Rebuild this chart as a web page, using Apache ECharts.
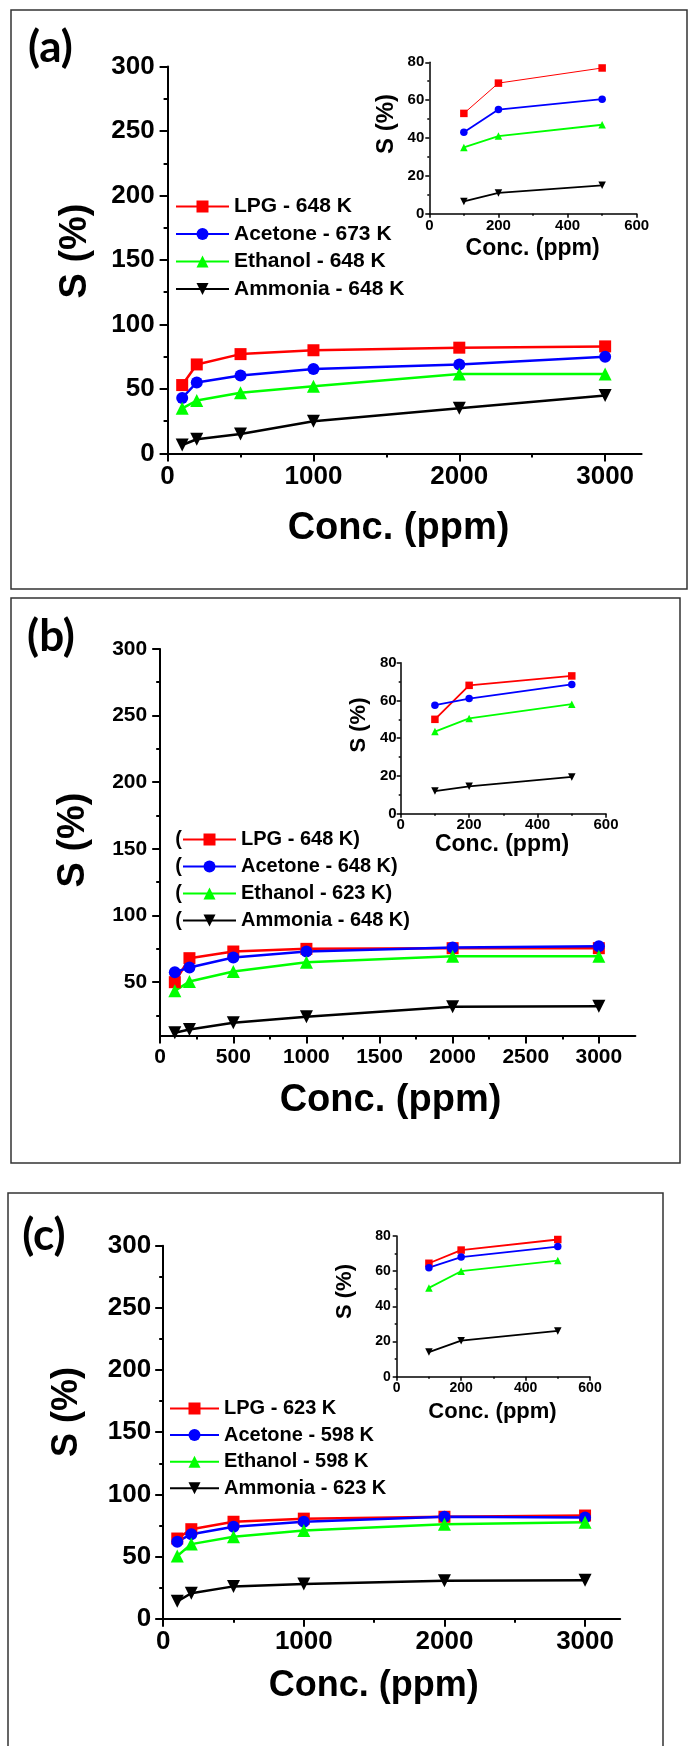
<!DOCTYPE html>
<html>
<head>
<meta charset="utf-8">
<script src="https://cdn.jsdelivr.net/npm/echarts@6/dist/echarts.min.js"></script>
<style>
  html,body{margin:0;padding:0;background:#fff}
  #chart{width:688px;height:1746px}
</style>
</head>
<body>
<div id="chart"></div>
<script>
/* ── data ─────────────────────────────────────────────── */
const concMain  = [100, 200, 500, 1000, 2000, 3000];   // ppm
const concInset = [100, 200, 500];                      // inset = low-conc zoom

const namesA   = ['LPG - 648 K', 'Acetone - 673 K', 'Ethanol - 648 K', 'Ammonia - 648 K'];
const lpgA     = [53, 69, 77, 80, 82, 83];
const acetoneA = [43, 55, 60.5, 65.5, 69, 75];
const ethanolA = [35, 41, 47, 52, 61.5, 61.5];
const ammoniaA = [6.5, 11, 15, 25, 35, 45];

const namesB   = ['LPG - 648 K)', 'Acetone - 648 K)', 'Ethanol - 623 K)', 'Ammonia - 648 K)'];
const lpgB     = [50, 68, 73, 75, 75.5, 75.5];
const acetoneB = [57.5, 61, 68.5, 73, 76, 77];
const ethanolB = [43.5, 50.5, 58, 65, 69.5, 69.5];
const ammoniaB = [12, 14.5, 19.5, 24, 31.5, 32];

const namesC   = ['LPG - 623 K', 'Acetone - 598 K', 'Ethanol - 598 K', 'Ammonia - 623 K'];
const lpgC     = [64.5, 72, 78, 80.5, 82, 83];
const acetoneC = [62, 68, 74, 78, 82, 81.5];
const ethanolC = [50.5, 60, 66, 71, 76, 77.5];
const ammoniaC = [14, 20.5, 26, 28, 30.5, 31];

// tick values
const yMajor300  = [0, 50, 100, 150, 200, 250, 300];
const yMinor300  = [25, 75, 125, 175, 225, 275];
const yMajorB    = [50, 100, 150, 200, 250, 300];
const x1000      = [0, 1000, 2000, 3000];
const x500minor  = [500, 1500, 2500];
const x500       = [0, 500, 1000, 1500, 2000, 2500, 3000];
const x250minor  = [250, 750, 1250, 1750, 2250, 2750];
const yInset     = [0, 20, 40, 60, 80];
const yInsetMin  = [10, 30, 50, 70];
const xInset     = [0, 200, 400, 600];
const xInsetMin  = [100, 300, 500];

/* ── style ───────────────────────────────────────────── */
const FONT = '"Liberation Sans", Arial, sans-serif';
const GAS = [
  { color: '#ff0000', symbol: 'rect',     size: 12 },
  { color: '#0000ff', symbol: 'circle',   size: 12 },
  { color: '#00ff00', symbol: 'triangle', size: 13 },
  { color: '#000000', symbol: 'triangle', size: 13, rotate: 180 },
];

// grid boxes: [left, top, width, height]; order a, a-inset, b, b-inset, c, c-inset
const GRIDS = [
  [167.6, 66.6, 474, 386.8],
  [429.3, 62.3, 207.4, 151.4],
  [160.2, 648.9, 475.2, 386.6],
  [400.7, 662.7, 205.3, 151],
  [163.2, 1245.8, 457, 372.9],
  [396.7, 1236, 193.3, 140.7],
];

// one axis + an overlay axis that carries only the short minor ticks
function axisPair(dim, g, c) {
  const pos = dim === 'x' ? 'bottom' : 'left';
  const main = {
    type: 'value', gridIndex: g, position: pos, min: c.min, max: c.max,
    axisLine: { show: true, onZero: false, lineStyle: { color: '#000', width: c.lw } },
    axisTick: { show: true, inside: false, length: c.tick, customValues: c.major,
      lineStyle: { color: '#000', width: c.lw } },
    axisLabel: { customValues: c.major, formatter: v => String(v), color: '#000',
      fontFamily: FONT, fontWeight: 'bold', fontSize: c.fs, margin: c.margin },
    splitLine: { show: false },
  };
  const minor = {
    type: 'value', gridIndex: g, position: pos, min: c.min, max: c.max,
    axisLine: { show: false, onZero: false },
    axisTick: { show: true, inside: false, length: c.tick / 2, customValues: c.minor,
      lineStyle: { color: '#000', width: c.lw } },
    axisLabel: { show: false },
    splitLine: { show: false },
  };
  return [main, minor];
}

const xAxis = [], yAxis = [];
function addAxes(g, xc, yc) {
  xAxis.push(...axisPair('x', g, xc));
  yAxis.push(...axisPair('y', g, yc));
}
const mainY = { min: 0, max: 300, major: yMajor300, minor: yMinor300, lw: 2, tick: 8 };
const insetY = { min: 0, max: 80, major: yInset, minor: yInsetMin, lw: 1.5, tick: 4 };
const insetX = { min: 0, max: 600, major: xInset, minor: xInsetMin, lw: 1.5, tick: 4 };

addAxes(0, { min: 0, max: 3250, major: x1000, minor: x500minor, lw: 2, tick: 8, fs: 26, margin: 10 },
           Object.assign({}, mainY, { fs: 26, margin: 13 }));
addAxes(1, Object.assign({}, insetX, { fs: 15, margin: 5 }), Object.assign({}, insetY, { fs: 15, margin: 5 }));
addAxes(2, { min: 0, max: 3250, major: x500, minor: x250minor, lw: 2, tick: 8, fs: 21, margin: 11 },
           { min: 10, max: 300, major: yMajorB, minor: yMinor300, lw: 2, tick: 8, fs: 21, margin: 13 });
addAxes(3, Object.assign({}, insetX, { fs: 15, margin: 4 }), Object.assign({}, insetY, { fs: 15, margin: 4 }));
addAxes(4, { min: 0, max: 3250, major: x1000, minor: x500minor, lw: 2, tick: 8, fs: 26, margin: 10 },
           Object.assign({}, mainY, { fs: 26, margin: 12 }));
addAxes(5, Object.assign({}, insetX, { fs: 14, margin: 4.5 }), Object.assign({}, insetY, { fs: 14, margin: 6 }));

// series for one panel: main chart (grid gMain) + inset (gMain+1)
function panel(names, values, gMain, thinLpgInset) {
  const out = [];
  values.forEach((v, i) => {
    const s = GAS[i];
    const base = { type: 'line', name: names[i], symbol: s.symbol, symbolRotate: s.rotate || 0,
      itemStyle: { color: s.color }, animation: false };
    out.push(Object.assign({}, base, {
      xAxisIndex: 2 * gMain, yAxisIndex: 2 * gMain, symbolSize: s.size,
      lineStyle: { color: s.color, width: 2.5 },
      data: concMain.map((c, k) => [c, v[k]]),
    }));
    const gi = gMain + 1;
    out.push(Object.assign({}, base, {
      xAxisIndex: 2 * gi, yAxisIndex: 2 * gi, symbolSize: 7.5,
      lineStyle: { color: s.color, width: (thinLpgInset && i === 0) ? 1 : 1.8 },
      data: concInset.map((c, k) => [c, v[k]]),
    }));
  });
  return out;
}

const series = [].concat(
  panel(namesA, [lpgA, acetoneA, ethanolA, ammoniaA], 0, true),
  panel(namesB, [lpgB, acetoneB, ethanolB, ammoniaB], 2, false),
  panel(namesC, [lpgC, acetoneC, ethanolC, ammoniaC], 4, false)
);

function legend(names, left, top, gap, w, fs) {
  return {
    data: names, orient: 'vertical', left, top, padding: 0, itemGap: gap,
    itemWidth: w, itemHeight: 15, selectedMode: false,
    lineStyle: { width: 2 },
    textStyle: { color: '#000', fontFamily: FONT, fontWeight: 'bold', fontSize: fs, lineHeight: 21 },
  };
}

/* ── texts & frames ──────────────────────────────────── */
const txt = (text, x, y, size, rot, family) => ({
  type: 'text', x, y, rotation: rot ? Math.PI / 2 : 0, z: 100,
  style: { text, fill: '#000', font: `bold ${size}px ${family || FONT}`,
    align: 'center', verticalAlign: 'middle', textAlign: 'center', textVerticalAlign: 'middle' },
});
const frame = (x, y, w, h) => ({
  type: 'rect', shape: { x, y, width: w, height: h }, z: 0,
  style: { fill: 'none', stroke: '#333', lineWidth: 1.5 },
});
const LETTER = 'Lato, "Open Sans", sans-serif';
const graphic = [
  frame(11, 10, 676, 579), frame(11, 598, 669, 565), frame(8, 1193, 655, 560),
  txt('(a)', 50.5, 47.5, 44, false, LETTER),
  txt('(b)', 51, 637, 44, false, LETTER),
  txt('(c)', 44, 1236, 44, false, LETTER),
  txt('S (%)', 75.6, 251, 38, true), txt('Conc. (ppm)', 398.5, 529, 38),
  txt('S (%)', 386, 124, 24, true),  txt('Conc. (ppm)', 532.6, 248.4, 23),
  txt('S (%)', 73.5, 840, 38, true), txt('Conc. (ppm)', 390.5, 1100.5, 38),
  txt('S (%)', 359, 725, 22, true),  txt('Conc. (ppm)', 502, 845, 23),
  txt('S (%)', 67, 1412, 36, true),  txt('Conc. (ppm)', 373.8, 1686, 36),
  txt('S (%)', 344.5, 1291.5, 22, true), txt('Conc. (ppm)', 492.5, 1411.5, 22),
];
// panel (b) legend rows open with a stray "("
[0, 1, 2, 3].forEach(i => graphic.push(txt('(', 178.5, 839.5 + i * 27, 20)));

const chart = echarts.init(document.getElementById('chart'), null, { renderer: 'canvas' });
chart.setOption({
  backgroundColor: '#fff',
  animation: false,
  grid: GRIDS.map(([left, top, width, height]) => ({ left, top, width, height, containLabel: false, outerBoundsMode: 'none' })),
  xAxis, yAxis, series,
  legend: [
    legend(namesA, 175, 196, 6.5, 53, 21),
    legend(namesB, 182, 829, 6, 53, 20),
    legend(namesC, 169, 1398, 5.6, 49, 20),
  ],
  graphic,
});
</script>
</body>
</html>
